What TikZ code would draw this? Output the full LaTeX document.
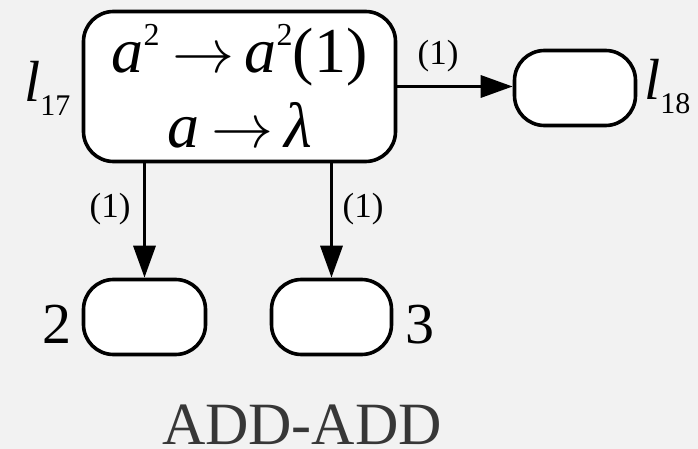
\documentclass[tikz,border=0pt]{standalone}
\usepackage{fontspec}
\setmainfont{Liberation Serif}
\newfontfamily\tnr{Liberation Serif}
\usetikzlibrary{arrows.meta}
\definecolor{bg}{RGB}{242,242,242}
\definecolor{titlegray}{RGB}{55,55,55}
\newcommand\supsq{\raisebox{0.42em}{\fontsize{32}{32}\tnr\selectfont 2}}
\newcommand\subsc[1]{\raisebox{-0.24em}{\fontsize{30}{30}\tnr\selectfont #1}}
\newcommand\bigarr{\hspace{0.2em}\scalebox{6.2}{\normalsize$\rightarrow$}\hspace{0.16em}}
\begin{document}
\begin{tikzpicture}[x=1pt,y=-1pt,
  state/.style={draw=black, line width=3.6pt, fill=white, rounded corners=30pt, inner sep=0pt},
  conn/.style={line width=3.4pt, -{Triangle[length=32pt,width=22pt]}},
  wlabel/.style={font=\tnr\fontsize{35}{40}\selectfont, inner sep=0pt},
  biglabel/.style={font=\tnr\fontsize{58}{64}\selectfont, inner sep=0pt}]
\fill[bg] (0,0) rectangle (698,449);
\useasboundingbox (0,0) rectangle (698,449);
\node[state, minimum width=312pt, minimum height=150pt, align=center,
      font=\tnr\fontsize{64}{75}\selectfont] (main) at (239.5,86.5)
  {\textit{a}\supsq\bigarr\textit{a}\supsq(1)\\\textit{a}\bigarr\textit{λ}};
\node[state, minimum width=121pt, minimum height=75pt] (s18) at (575,88) {};
\node[state, minimum width=122pt, minimum height=75pt] (s2) at (144.5,317) {};
\node[state, minimum width=120pt, minimum height=75pt] (s3) at (331.5,317) {};
\draw[conn] (main.east) -- (main.east -| s18.west);
\draw[conn] (main.south -| s2.north) -- (s2.north);
\draw[conn] (main.south -| s3.north) -- (s3.north);
\node[wlabel] (w1) at (438,56) {(1)};
\node[wlabel] (w2) at (110,209) {(1)};
\node[wlabel] (w3) at (363,209) {(1)};
\node[biglabel, anchor=base west] (l17) at (24,102) {\textit{l}\subsc{17}};
\node[biglabel, anchor=base west] (l18) at (644,100) {\textit{l}\subsc{18}};
\node[biglabel, anchor=base west] (n2) at (42,343) {2};
\node[biglabel, anchor=base west] (n3) at (405,343) {3};
\node[font=\tnr\fontsize{60}{66}\selectfont, text=titlegray, inner sep=0pt,
      text depth=0pt, anchor=base] (title) at (302,444) {ADD-ADD};
\end{tikzpicture}
\end{document}
